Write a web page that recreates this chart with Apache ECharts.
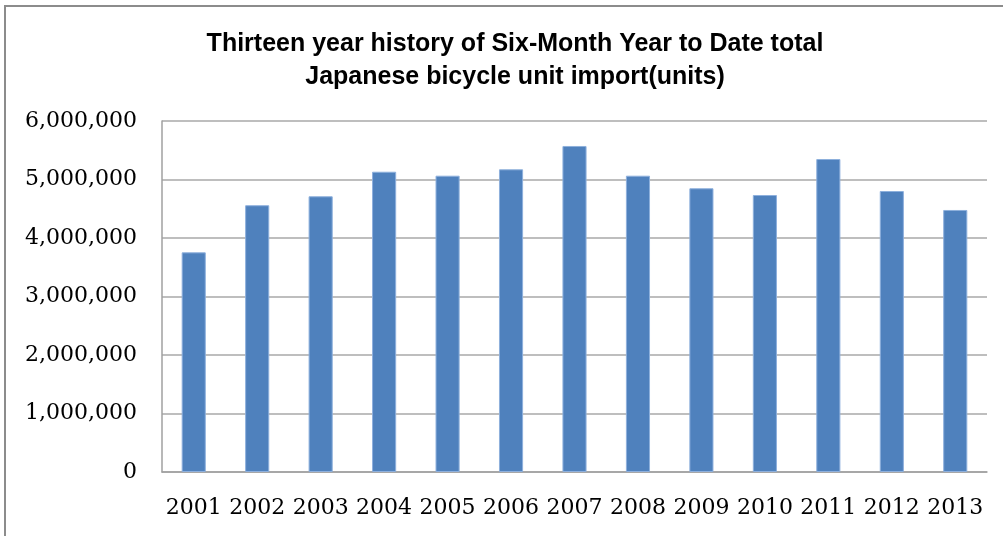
<!DOCTYPE html>
<html lang="en">
  <head>
    <meta charset="UTF-8" />
    <title>Japanese bicycle unit import</title>
    <script src="https://cdn.jsdelivr.net/npm/echarts@6/dist/echarts.min.js"></script>
    <style>
      body {
        margin: 0;
        background: #fff;
      }
      #main {
        width: 1003px;
        height: 536px;
      }
    </style>
  </head>
  <body>
    <div id="main"></div>
    <script type="text/javascript">
      // values
      const years = ["2001", "2002", "2003", "2004", "2005", "2006", "2007",
        "2008", "2009", "2010", "2011", "2012", "2013"]
      const units = [3755000, 4560000, 4713000, 5133000, 5065000, 5174000, 5573000,
        5065000, 4850000, 4735000, 5350000, 4803000, 4479000]
      const titleLines = [
        "Thirteen year history of Six-Month Year to Date total",
        "Japanese bicycle unit import(units)",
      ]

      var chart = echarts.init(document.getElementById("main"))

      const option = {
        animation: false,
        title: {
          text: titleLines.join("\n"),
          left: 510,
          textAlign: "center",
          top: 23,
          textStyle: {
            fontFamily: "Liberation Sans",
            fontWeight: "bold",
            fontSize: 25,
            lineHeight: 33,
            color: "#000",
          },
        },
        graphic: [
          {
            type: "polyline",
            shape: { points: [[5, 536], [5, 6], [1003, 6]] },
            style: { stroke: "#8c8c8c", lineWidth: 2, fill: null },
          },
        ],
        grid: {
          left: 162,
          right: 16,
          top: 121,
          bottom: 64,
        },
        xAxis: {
          type: "category",
          data: years,
          axisLine: { lineStyle: { color: "#a0a0a0", width: 1.5 } },
          axisTick: { show: false },
          axisLabel: {
            interval: 0,
            margin: 25,
            fontFamily: "DejaVu Serif",
            fontSize: 22,
            color: "#000",
          },
        },
        yAxis: {
          type: "value",
          min: 0,
          max: 6000000,
          interval: 1000000,
          axisLine: { show: true, lineStyle: { color: "#a0a0a0", width: 1.5 } },
          axisTick: { show: false },
          splitLine: { lineStyle: { color: "#a8a8a8", width: 1.5 } },
          axisLabel: {
            margin: 25,
            fontFamily: "DejaVu Serif",
            fontSize: 22,
            color: "#000",
            formatter: v => v.toLocaleString("en-US"),
          },
        },
        series: [
          {
            type: "bar",
            data: units,
            barWidth: "38%",
            itemStyle: {
              color: "#4f81bd",
              borderColor: "#8eb0dd",
              borderWidth: 1,
            },
          },
        ],
      }

      chart.setOption(option)
    </script>
  </body>
</html>
